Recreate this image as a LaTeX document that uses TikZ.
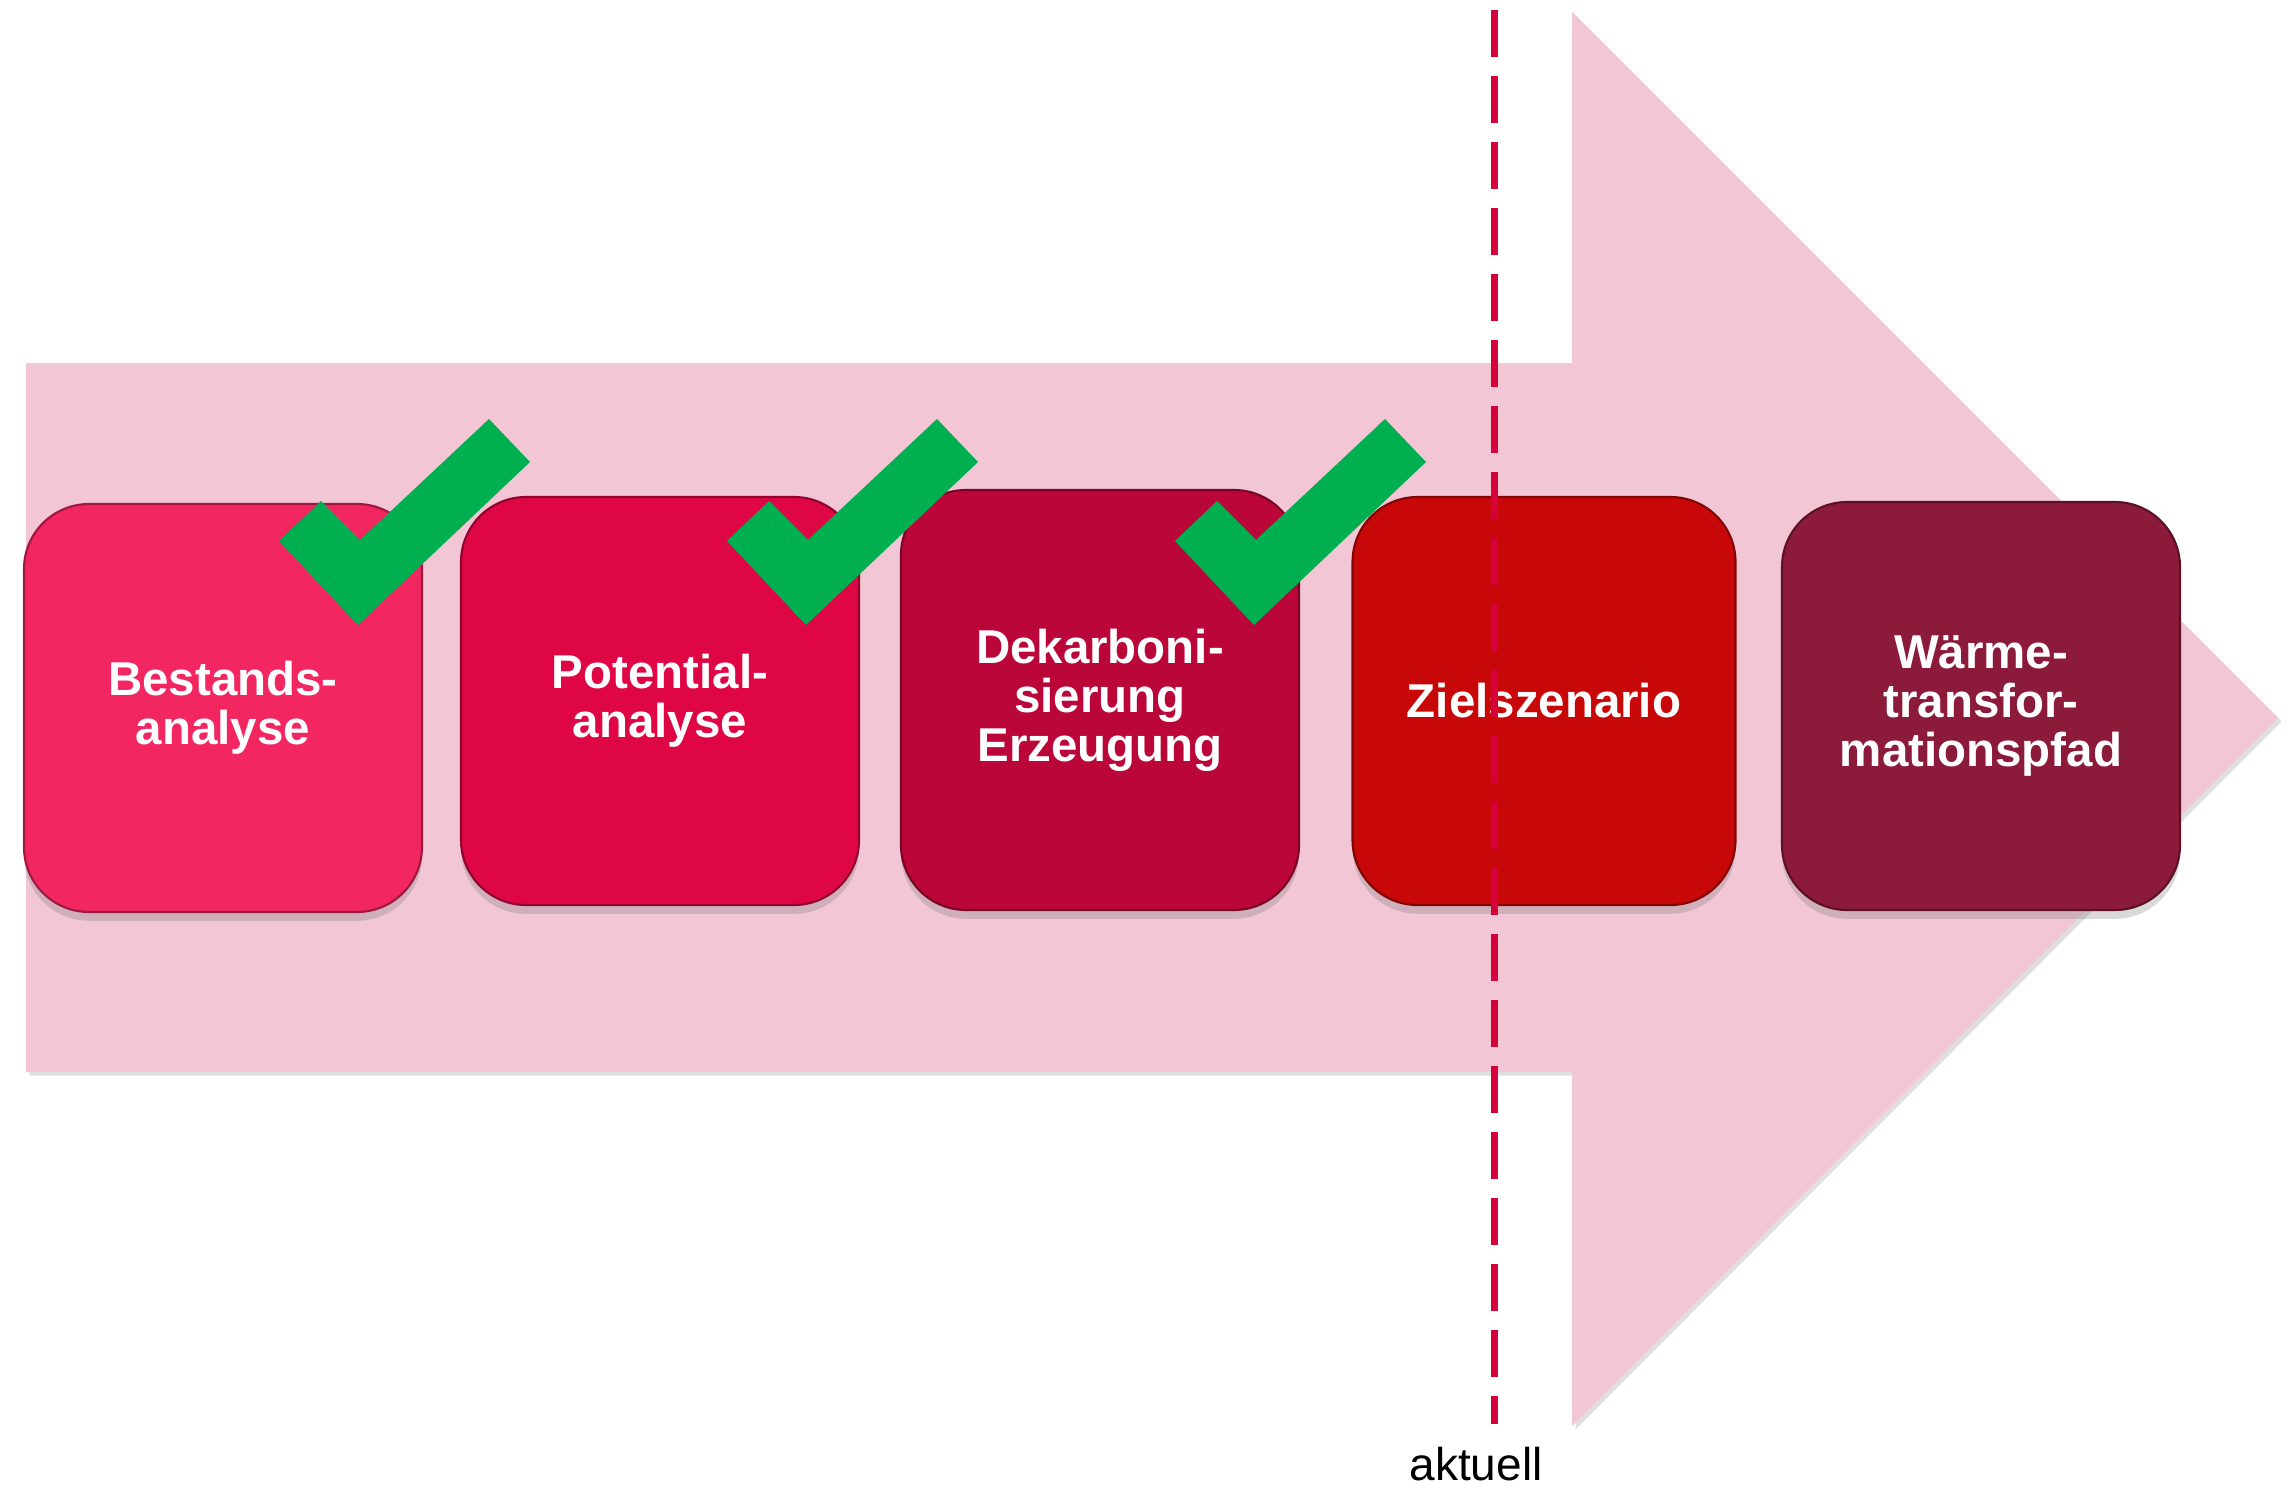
\documentclass[tikz,border=0pt]{standalone}
\usepackage{fontspec}
\setmainfont{Liberation Sans}
\usepackage{tikz}
\usetikzlibrary{shadows}

\definecolor{arrowpink}{RGB}{242,198,212}
\definecolor{bestred}{RGB}{242,39,98}
\definecolor{potred}{RGB}{223,6,70}
\definecolor{dekred}{RGB}{187,6,58}
\definecolor{zielred}{RGB}{200,8,8}
\definecolor{waermered}{RGB}{140,26,58}
\definecolor{tickgreen}{RGB}{0,176,80}
\definecolor{nowred}{RGB}{214,0,58}

\begin{document}
\begin{tikzpicture}[
  x=0.1mm, y=-0.1mm,
  stage/.style   = {draw=#1!65!black, fill=#1, rounded corners=6.5mm, align=center,
                    text=white, inner sep=0pt, minimum width=39.8mm, minimum height=40.8mm,
                    line width=0.6pt, font=\fontsize{13.5}{13.9}\selectfont\bfseries,
                    drop shadow={shadow xshift=0pt, shadow yshift=-2.5pt, opacity=.3}},
  tick/.style    = {fill=tickgreen},
  nowline/.style = {draw=nowred, line width=2pt, dash pattern=on 4.7mm off 1.9mm}
]

\useasboundingbox (0,0) rectangle (2293,1488);

% ---- big arrow behind the stages -------------------------------------------
\fill[arrowpink, drop shadow={shadow xshift=1pt, shadow yshift=-1pt, opacity=.25}]
  (26,363) -- (1572,363) -- (1572,12) -- (2278,718) -- (1572,1426)
  -- (1572,1072) -- (26,1072) -- cycle;

% ---- stages ----------------------------------------------------------------
\node[stage=bestred] (best) at (223,708) {Bestands-\\analyse};
\node[stage=potred] (pot) at (660,701) {Potential-\\analyse};
\node[stage=dekred, minimum height=42mm] (dekarb) at (1100,700)
  {Dekarboni-\\sierung\\Erzeugung};
\node[stage=zielred, minimum width=38.3mm] (ziel) at (1544,701) {Zielszenario};
\node[stage=waermered] (waerme) at (1981,706) {Wärme-\\transfor-\\mationspfad};

% ---- ticks on the finished stages ------------------------------------------
\foreach \dx in {0,448,896}
  \fill[tick, shift={(\dx,0)}] (279,541) -- (321,501) -- (360,540)
    -- (489,419) -- (530,462) -- (358,625) -- cycle;

% ---- where we stand now ----------------------------------------------------
\coordinate (nowtop) at (1494,10);
\coordinate (nowbot) at (1494,1424);
\draw[nowline] (nowtop) -- (nowbot);
\node[anchor=base, inner sep=0pt, font=\fontsize{13.1}{15}\selectfont] (now)
  at (1476,1480) {aktuell};

\end{tikzpicture}
\end{document}
